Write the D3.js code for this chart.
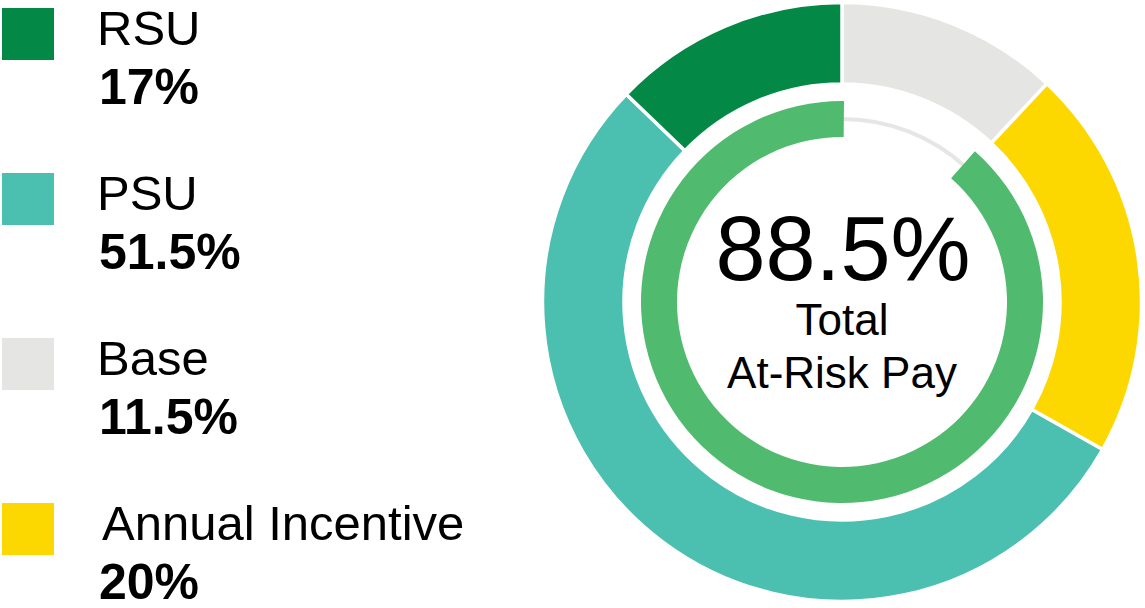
<!DOCTYPE html>
<html>
<head>
<meta charset="utf-8">
<script src="https://cdn.jsdelivr.net/npm/d3@7"></script>
<style>
  body { margin: 0; background: #fff; }
  svg text { font-family: "Liberation Sans", Arial, sans-serif; fill: #000; }
</style>
</head>
<body>
<svg id="chart" width="1145" height="608"></svg>
<script>
// legend order (top to bottom)
const categories = ["RSU", "PSU", "Base", "Annual Incentive"];
const legendValues = ["17%", "51.5%", "11.5%", "20%"];
const colors = ["#038846", "#4bc0b0", "#e5e5e3", "#fdd800"];
// ring order, clockwise from 12 o'clock, with the share each slice takes in the picture
const ringOrder = ["Base", "Annual Incentive", "PSU", "RSU"];
const ringShares = [12, 21.2, 54, 12.8];
// inner gauge
const totalAtRisk = 88.5;
const centerLabel = ["Total", "At-Risk Pay"];

const svg = d3.select('#chart');
const cx = 842, cy = 302;

const color = d3.scaleOrdinal().domain(categories).range(colors);

// legend
const legend = svg.append('g');
const rowY = d3.scalePoint().domain(categories).range([0, 495]);
categories.forEach((c, i) => {
    let g = legend.append('g').attr('transform', 'translate(0,' + rowY(c) + ')');
    g.append('rect')
        .attr('x', 2).attr('y', 8)
        .attr('width', 52).attr('height', 52)
        .attr('fill', color(c));
    g.append('text')
        .attr('x', c === "Annual Incentive" ? 102 : 97)
        .attr('y', 45)
        .attr('font-size', '49px')
        .text(c);
    g.append('text')
        .attr('x', 99)
        .attr('y', 104)
        .attr('font-size', '50px')
        .attr('font-weight', 'bold')
        .text(legendValues[i]);
});

const chart = svg.append('g').attr('transform', 'translate(' + cx + ',' + cy + ')');

// outer ring
const pie = d3.pie().sort(null).value(d => d.v);
const slices = pie(ringOrder.map((k, i) => ({k: k, v: ringShares[i]})));
const outerArc = d3.arc().innerRadius(218).outerRadius(299.5);
chart.selectAll('path.slice')
    .data(slices)
    .enter().append('path')
    .attr('class', 'slice')
    .attr('d', outerArc)
    .attr('fill', d => color(d.data.k))
    .attr('stroke', '#fff')
    .attr('stroke-width', 3.5);

// inner gauge: thin grey track in the gap, green for the at-risk part
const gap = (1 - totalAtRisk / 100) * 2 * Math.PI;
chart.append('path')
    .attr('d', d3.arc().innerRadius(181).outerRadius(185).startAngle(0).endAngle(gap + 0.02)())
    .attr('fill', '#e6e6e4');
chart.append('path')
    .attr('d', d3.arc().innerRadius(165).outerRadius(201).startAngle(gap).endAngle(2 * Math.PI + 0.01)())
    .attr('fill', '#50bb6f');

// center text
chart.append('text')
    .attr('x', 1).attr('y', -22)
    .attr('text-anchor', 'middle')
    .attr('font-size', '90px')
    .text(totalAtRisk + '%');
chart.append('text')
    .attr('x', 0).attr('y', 33)
    .attr('text-anchor', 'middle')
    .attr('font-size', '44px')
    .text(centerLabel[0]);
chart.append('text')
    .attr('x', 0).attr('y', 86)
    .attr('text-anchor', 'middle')
    .attr('font-size', '44px')
    .text(centerLabel[1]);
</script>
</body>
</html>
